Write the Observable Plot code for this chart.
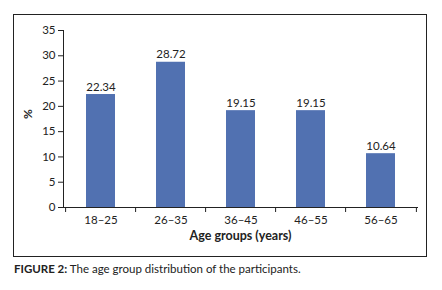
<!DOCTYPE html>
<html>
<head>
<meta charset="utf-8">
<script src="https://cdn.jsdelivr.net/npm/d3@7"></script>
<script src="https://cdn.jsdelivr.net/npm/@observablehq/plot@0.6"></script>
<style>
  body { margin: 0; background: #fff; font-family: Lato, "Noto Sans", sans-serif; }
  #page { position: relative; width: 442px; height: 290px; background: #fff; }
  #frame { position: absolute; left: 13px; top: 14px; width: 412px; height: 241px; border: 1px solid #222; }
  #frame svg { display: block; }
  #caption { position: absolute; left: 14px; top: 262px; font-size: 11.5px; color: #222; white-space: nowrap; }
  #caption b { font-weight: bold; }
</style>
</head>
<body>
<div id="page">
  <div id="frame"></div>
  <div id="caption"><b>FIGURE 2:</b> The age group distribution of the participants.</div>
</div>
<script>
const categories = ["18–25", "26–35", "36–45", "46–55", "56–65"];
const values = [22.34, 28.72, 19.15, 19.15, 10.64];
const yTicks = [0, 5, 10, 15, 20, 25, 30, 35];

const data = categories.map((c, i) => ({group: c, value: values[i]}));

const W = 412, H = 241, ML = 49, MR = 9, MT = 15, MB = 49;
const step = (W - ML - MR) / categories.length;
const font = "Lato, 'Noto Sans', sans-serif";

const chart = Plot.plot({
  width: W,
  height: H,
  marginLeft: ML,
  marginRight: MR,
  marginTop: MT,
  marginBottom: MB,
  style: {fontFamily: font, fontSize: "11.5px", color: "#222", background: "#fff"},
  x: {domain: categories, paddingInner: 0.59, paddingOuter: 0.295, align: 0.5},
  y: {domain: [0, 35]},
  marks: [
    Plot.barY(data, {x: "group", y: "value", fill: "#5171b1"}),
    Plot.text(data, {x: "group", y: "value", text: d => d.value.toFixed(2), lineAnchor: "bottom", dy: -4, fill: "#222", fontSize: 11.5}),
    Plot.frame({anchor: "left", stroke: "#222"}),
    Plot.frame({anchor: "bottom", stroke: "#222"}),
    Plot.axisY({ticks: yTicks, tickSize: 5, tickPadding: 3, stroke: "#222", fill: "#222", label: null, fontSize: 11.5}),
    Plot.axisX({ticks: categories, tickSize: 5, text: null, dx: -step / 2, stroke: "#222", label: null}),
    Plot.axisX({ticks: categories.slice(-1), tickSize: 5, text: null, dx: step / 2, stroke: "#222", label: null}),
    Plot.axisX({ticks: categories, tickSize: 0, tickPadding: 8, fill: "#222", label: null, fontSize: 11.5}),
    Plot.text(["%"], {frameAnchor: "left", dx: -35, rotate: -90, fontWeight: "bold", fontSize: 12, fill: "#222"}),
    Plot.text(["Age groups (years)"], {frameAnchor: "bottom", dy: 32, fontWeight: "bold", fontSize: 12.5, fill: "#222"})
  ]
});
document.getElementById("frame").appendChild(chart);
</script>
</body>
</html>
